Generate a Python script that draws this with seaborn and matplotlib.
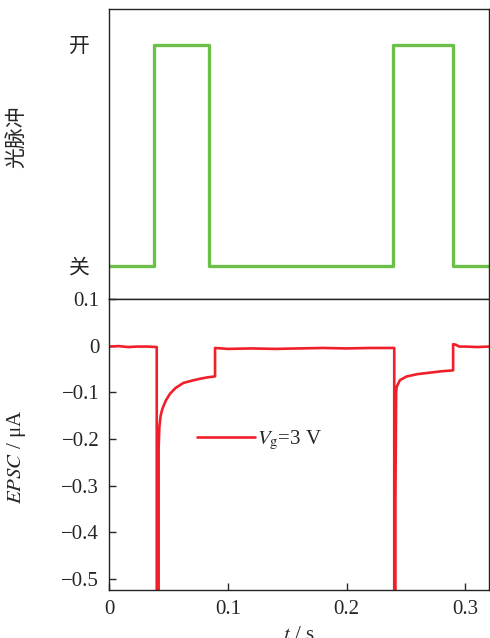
import numpy as np
import pandas as pd
import matplotlib
matplotlib.use('Agg')
import matplotlib.pyplot as plt
import seaborn as sns

# light pulse (0 = off, 1 = on), step edges
pulse_t = [0, 0.038, 0.084, 0.239, 0.290, 0.32]
pulse_state = [0, 1, 0, 1, 0, 0]
pulse_ticks = [0, 1]
pulse_ticklabels = ['关', '开']

# EPSC trace (uA)
epsc_t = [0, 0.008, 0.016, 0.024, 0.032, 0.0402, 0.0402, 0.0418, 0.0418, 0.0424,
          0.0435, 0.0447, 0.0458, 0.048, 0.0514, 0.056, 0.0626, 0.07, 0.0767, 0.083,
          0.0893, 0.0893, 0.1, 0.12, 0.14, 0.16, 0.18, 0.2, 0.22, 0.2402, 0.2402,
          0.2412, 0.2412, 0.2418, 0.2423, 0.245, 0.2507, 0.26, 0.27, 0.28, 0.2898,
          0.2898, 0.292, 0.295, 0.3, 0.31, 0.32]
epsc_val = [-0.002, -0.001, -0.003, -0.002, -0.002, -0.003, -1.0, -1.0, -0.22, -0.175,
            -0.15, -0.138, -0.13, -0.117, -0.103, -0.091, -0.080, -0.075, -0.071, -0.068,
            -0.066, -0.005, -0.007, -0.006, -0.007, -0.006, -0.005, -0.006, -0.005, -0.005, -1.0,
            -1.0, -0.33, -0.1, -0.088, -0.074, -0.066, -0.061, -0.058, -0.055, -0.053,
            0.003, 0.002, -0.002, -0.002, -0.003, -0.002]
epsc_ticks = [0.1, 0, -0.1, -0.2, -0.3, -0.4, -0.5]
epsc_ticklabels = ['0.1', '0', '\u22120.1', '\u22120.2', '\u22120.3', '\u22120.4', '\u22120.5']
time_ticks = [0, 0.1, 0.2, 0.3]
time_ticklabels = ['0', '0.1', '0.2', '0.3']

sns.set_style('ticks')
plt.rcParams['font.family'] = ['Liberation Serif', 'Noto Sans CJK SC']
plt.rcParams['mathtext.fontset'] = 'stix'
plt.rcParams['font.size'] = 15

fig = plt.figure(figsize=(4.9, 6.38), dpi=100)
ax1 = fig.add_axes([109 / 490, 1 - 299 / 638, 380 / 490, 290 / 638])
ax2 = fig.add_axes([109 / 490, 1 - 590 / 638, 380 / 490, 291 / 638])

pulse = pd.DataFrame({'t': pulse_t, 'state': pulse_state})
sns.lineplot(data=pulse, x='t', y='state', ax=ax1, color='#6cc04a', lw=2.4,
             drawstyle='steps-post', estimator=None, sort=False)
ax1.set_xlim(0, 0.32)
ax1.set_ylim(-0.149, 1.163)
ax1.set_yticks(pulse_ticks)
ax1.set_yticklabels(pulse_ticklabels)
ax1.set_xticks([])
ax1.set_xlabel('')
ax1.set_ylabel('光脉冲')
ax1.yaxis.set_label_coords(-0.216, 0.56)
ax1.tick_params(axis='y', length=0, pad=14, labelsize=15)

epsc = pd.DataFrame({'t': epsc_t, 'I': epsc_val})
sns.lineplot(data=epsc, x='t', y='I', ax=ax2, color='#f0202a', lw=1.9,
             estimator=None, sort=False, label=r'$V_{\mathrm{g}}$=3 V')
ax2.set_xlim(0, 0.32)
ax2.set_ylim(-0.524, 0.1)
ax2.set_yticks(epsc_ticks)
ax2.set_yticklabels(epsc_ticklabels)
ax2.set_xticks(time_ticks)
ax2.set_xticklabels(time_ticklabels)
ax2.tick_params(direction='in', length=5, width=1, pad=7, labelsize=15)
ax2.set_ylabel(r'$\mathit{EPSC}$ / μA')
ax2.yaxis.set_label_coords(-0.213, 0.457)
ax2.set_xlabel(r'$t$ / s')
ax2.xaxis.set_label_coords(0.5, -0.125)
ax2.legend(loc='center left', bbox_to_anchor=(0.231, 0.515), frameon=False,
           borderpad=0, borderaxespad=0, handlelength=2.8, handletextpad=0.1,
           fontsize=15)

for ax in (ax1, ax2):
    for s in ax.spines.values():
        s.set_linewidth(1.0)
        s.set_color('#222222')

fig.savefig('out.png', dpi=100)
